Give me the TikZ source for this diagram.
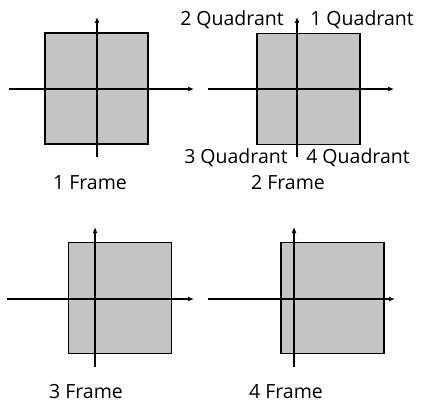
\documentclass[tikz,border=0pt]{standalone}
\usepackage{fontspec}
\setmainfont{Open Sans}
\usetikzlibrary{arrows.meta}

\begin{document}
\begin{tikzpicture}[
  x=1pt, y=-1pt,
  every node/.style={font=\fontsize{19.5}{22}\selectfont},
  frame/.style={rectangle, draw=black, line width=1.8pt, fill=black!23,
                minimum width=103pt, minimum height=111pt, inner sep=0pt},
  axis/.style={-{Latex[length=6pt,width=5pt]}, line width=1.6pt}]

\useasboundingbox (0,0) rectangle (422,406);

% frames
\node[frame] (f1) at (96.5,88.5) {};
\node[frame] (f2) at (308.5,89) {};
\node[frame] (f3) at (120,298) {};
\node[frame] (f4) at (332.5,298) {};

% axis ends
\coordinate (x1a) at (9,89);   \coordinate (x1b) at (194,89);
\coordinate (y1a) at (97,157); \coordinate (y1b) at (97,17);
\coordinate (x2a) at (208,89);  \coordinate (x2b) at (394,89);
\coordinate (y2a) at (297,157); \coordinate (y2b) at (297,17);
\coordinate (x3a) at (7,299);   \coordinate (x3b) at (194,299);
\coordinate (y3a) at (95,367);  \coordinate (y3b) at (95,227);
\coordinate (x4a) at (208,299); \coordinate (x4b) at (395,299);
\coordinate (y4a) at (294,367); \coordinate (y4b) at (294,227);

\draw[axis] (x1a) -- (x1b);
\draw[axis] (y1a) -- (y1b);
\draw[axis] (x2a) -- (x2b);
\draw[axis] (y2a) -- (y2b);
\draw[axis] (x3a) -- (x3b);
\draw[axis] (y3a) -- (y3b);
\draw[axis] (x4a) -- (x4b);
\draw[axis] (y4a) -- (y4b);

% quadrant labels
\node (q2) at (232,20) {2 Quadrant};
\node (q1) at (362,20) {1 Quadrant};
\node (q3) at (236,158) {3 Quadrant};
\node (q4) at (358,158) {4 Quadrant};

% frame labels
\node (l1) at (90,183) {1 Frame};
\node (l2) at (288,183) {2 Frame};
\node (l3) at (86,392) {3 Frame};
\node (l4) at (286,392) {4 Frame};
\end{tikzpicture}
\end{document}
